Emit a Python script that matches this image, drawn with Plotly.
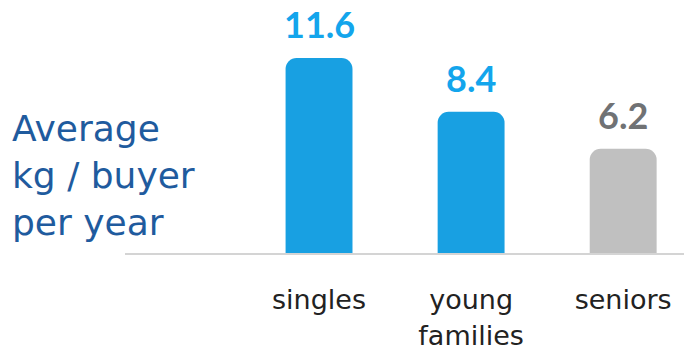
import plotly.graph_objects as go

categories = ["singles", "young<br>families", "seniors"]
values = [11.6, 8.4, 6.2]
value_labels = ["11.6", "8.4", "6.2"]
bar_colors = ["#18a0e2", "#18a0e2", "#c0c0c0"]
label_colors = ["#13a5ec", "#13a5ec", "#707274"]
axis_title = "Average<br>kg / buyer<br>per year"

VAL_FONT = "Lato, 'Open Sans', sans-serif"
TXT_FONT = "'DejaVu Sans', sans-serif"

fig = go.Figure()
fig.add_trace(go.Bar(
    x=list(range(len(categories))),
    y=values,
    marker=dict(color=bar_colors, line=dict(width=0)),
    width=0.44,
    hoverinfo="skip",
))

for i, (v, t, c) in enumerate(zip(values, value_labels, label_colors)):
    fig.add_annotation(
        x=i, y=v, text=f"<b>{t}</b>", showarrow=False,
        xanchor="center", yanchor="bottom", yshift=10,
        font=dict(family=VAL_FONT, size=36, color=c),
    )

fig.add_annotation(
    xref="paper", yref="paper", x=-0.205, y=0.319,
    xanchor="left", yanchor="middle", align="left",
    text=axis_title, showarrow=False,
    font=dict(family=TXT_FONT, size=36, color="#1f5b9e"),
)

fig.update_layout(
    width=684, height=353,
    margin=dict(l=125, r=0, t=10, b=100),
    paper_bgcolor="white", plot_bgcolor="white",
    showlegend=False,
    barcornerradius=11,
    xaxis=dict(
        range=[-1.276, 2.40],
        tickmode="array",
        tickvals=list(range(len(categories))),
        ticktext=categories,
        showgrid=False, zeroline=False,
        showline=True, linecolor="#d4d4d4", linewidth=2,
        ticks="", ticklabelstandoff=22,
        automargin=False,
        tickfont=dict(family=TXT_FONT, size=27, color="#222222"),
    ),
    yaxis=dict(
        range=[0, 14.46],
        visible=False, showgrid=False, zeroline=False,
        automargin=False,
    ),
)

fig.write_html(
    "out.html",
    config={"displayModeBar": False, "staticPlot": True},
    post_script="document.body.style.margin='0';document.body.style.overflow='hidden';",
)
